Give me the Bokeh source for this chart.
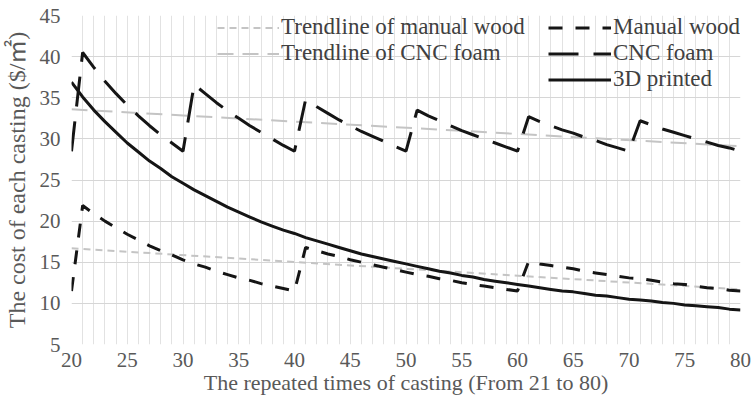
from bokeh.plotting import figure
from bokeh.models import Legend, LegendItem, FixedTicker
from bokeh.embed import file_html
from bokeh.resources import INLINE

# ---- data ----
casting = list(range(20, 81))

manual_wood = [11.5, 21.9, 20.9, 20.0, 19.2, 18.4, 17.7, 17.0, 16.4, 15.9,
               15.3, 14.8, 14.4, 13.9, 13.5, 13.1, 12.8, 12.4, 12.1, 11.8,
               11.5, 16.8, 16.4, 16.0, 15.7, 15.3, 15.0, 14.7, 14.4, 14.1,
               13.8, 13.5, 13.3, 13.0, 12.8, 12.5, 12.3, 12.1, 11.9, 11.7,
               11.5, 15.1, 14.8, 14.6, 14.4, 14.2, 13.9, 13.7, 13.5, 13.3,
               13.1, 13.0, 12.8, 12.6, 12.4, 12.3, 12.1, 11.9, 11.8, 11.6,
               11.5]

cnc_foam = [28.5, 40.5, 38.7, 37.0, 35.5, 34.1, 32.8, 31.6, 30.5, 29.5,
            28.5, 36.6, 35.5, 34.4, 33.4, 32.5, 31.6, 30.8, 30.0, 29.2,
            28.5, 34.8, 33.9, 33.1, 32.3, 31.6, 30.9, 30.3, 29.7, 29.1,
            28.5, 33.5, 32.8, 32.2, 31.6, 31.0, 30.5, 30.0, 29.5, 29.0,
            28.5, 32.7, 32.1, 31.6, 31.1, 30.7, 30.2, 29.8, 29.3, 28.9,
            28.5, 32.2, 31.7, 31.2, 30.8, 30.4, 30.0, 29.6, 29.2, 28.9,
            28.5]

printed_3d = [36.9, 35.1, 33.5, 32.1, 30.8, 29.5, 28.4, 27.3, 26.4, 25.4,
              24.6, 23.8, 23.1, 22.4, 21.7, 21.1, 20.5, 19.9, 19.4, 18.9,
              18.5, 18.0, 17.6, 17.2, 16.8, 16.4, 16.0, 15.7, 15.4, 15.1,
              14.8, 14.5, 14.2, 13.9, 13.7, 13.4, 13.2, 12.9, 12.7, 12.5,
              12.3, 12.1, 11.9, 11.7, 11.5, 11.4, 11.2, 11.0, 10.9, 10.7,
              10.5, 10.4, 10.3, 10.1, 10.0, 9.8, 9.7, 9.6, 9.5, 9.3,
              9.2]

trend_x = [20, 80]
trend_manual_wood = [16.7, 11.7]
trend_cnc_foam = [33.6, 29.1]

x_ticks = [20, 25, 30, 35, 40, 45, 50, 55, 60, 65, 70, 75, 80]
y_ticks = [5, 10, 15, 20, 25, 30, 35, 40, 45]
x_grid = list(range(20, 81))

x_title = "The repeated times of casting (From 21 to 80)"
y_title = "The cost of each casting ($/㎡)"

FONT = "Liberation Serif"
FONT_Y = "Liberation Serif, Noto Sans CJK SC"
TXT = "#595959"

p = figure(width=751, height=397, output_backend="svg", toolbar_location=None,
           x_range=(20, 80), y_range=(5, 45),
           min_border_left=70, min_border_right=11, min_border_top=15,
           min_border_bottom=50)
p.outline_line_color = None
p.background_fill_color = "white"
p.border_fill_color = "white"

p.xaxis.ticker = FixedTicker(ticks=x_ticks)
p.yaxis.ticker = FixedTicker(ticks=y_ticks)
p.xgrid.ticker = FixedTicker(ticks=x_grid)
p.ygrid.ticker = FixedTicker(ticks=y_ticks)
p.xgrid.grid_line_color = "#e2e2e2"
p.ygrid.grid_line_color = "#d6d6d6"

for ax in (p.xaxis[0], p.yaxis[0]):
    ax.axis_line_color = None
    ax.major_tick_line_color = None
    ax.minor_tick_line_color = None
    ax.major_label_text_font = FONT
    ax.major_label_text_font_size = "21px"
    ax.major_label_text_color = TXT
    ax.axis_label_text_font = FONT
    ax.axis_label_text_font_style = "normal"
    ax.axis_label_text_color = TXT

p.yaxis.axis_label_text_font = FONT_Y
p.xaxis.major_label_standoff = 2
p.yaxis.major_label_standoff = 5
p.xaxis.axis_label = x_title
p.yaxis.axis_label = y_title
p.xaxis.axis_label_text_font_size = "22px"
p.yaxis.axis_label_text_font_size = "24px"
p.xaxis.axis_label_standoff = 0
p.yaxis.axis_label_standoff = 7

GRAY = "#c4c4c4"
BLACK = "#151515"
r_wt = p.line(trend_x, trend_manual_wood, line_color=GRAY, line_width=2, line_dash="7 5")
r_ct = p.line(trend_x, trend_cnc_foam, line_color=GRAY, line_width=2, line_dash="16 9")
r_w = p.line(casting, manual_wood, line_color=BLACK, line_width=3, line_dash="14 13")
r_c = p.line(casting, cnc_foam, line_color=BLACK, line_width=3, line_dash="30 15")
r_3 = p.line(casting, printed_3d, line_color=BLACK, line_width=3)


def make_legend(items, loc, gw):
    return Legend(items=items, location=loc, orientation="vertical",
                  background_fill_alpha=0, border_line_color=None,
                  padding=0, margin=0, spacing=0, glyph_width=gw,
                  glyph_height=25, label_standoff=2, label_height=25,
                  label_text_font=FONT, label_text_font_size="23px",
                  label_text_color="#404040")


leg1 = make_legend([LegendItem(label="Trendline of manual wood", renderers=[r_wt]),
                    LegendItem(label="Trendline of CNC foam", renderers=[r_ct])],
                   (146, 278), 62)
leg2 = make_legend([LegendItem(label="Manual wood", renderers=[r_w]),
                    LegendItem(label="CNC foam", renderers=[r_c]),
                    LegendItem(label="3D printed", renderers=[r_3])],
                   (477, 252), 63)
p.add_layout(leg1)
p.add_layout(leg2)

open("out.html", "w").write(file_html(p, INLINE))
